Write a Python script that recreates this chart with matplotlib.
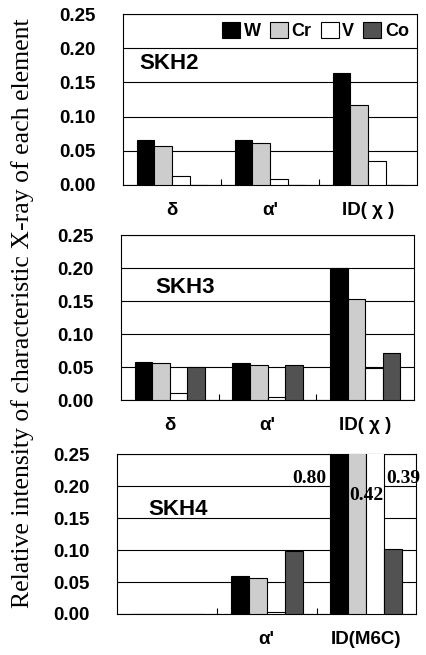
import numpy as np
import matplotlib
matplotlib.use("Agg")
import matplotlib.pyplot as plt

plt.rcParams['font.family'] = ['Liberation Sans', 'DejaVu Sans']

elements = ['W', 'Cr', 'V', 'Co']
colors = ['black', '#cdcdcd', 'white', '#525252']

cats_23 = ['δ', "α'", 'ID( χ )']
cats_4 = ['', "α'", 'ID(M6C)']

# values per element, per category
skh2 = {'W': [0.066, 0.066, 0.164],
        'Cr': [0.057, 0.061, 0.117],
        'V': [0.013, 0.009, 0.035],
        'Co': [0.0, 0.0, 0.0]}
skh3 = {'W': [0.058, 0.057, 0.200],
        'Cr': [0.057, 0.054, 0.154],
        'V': [0.011, 0.005, 0.049],
        'Co': [0.050, 0.054, 0.071]}
skh4 = {'W': [0.0, 0.060, 0.80],
        'Cr': [0.0, 0.057, 0.42],
        'V': [0.0, 0.003, 0.39],
        'Co': [0.0, 0.099, 0.101]}

fig = plt.figure(figsize=(4.26, 6.55), dpi=100)
ax1 = fig.add_axes([0.289, 0.7176, 0.690, 0.261])
ax2 = fig.add_axes([0.284, 0.389, 0.688, 0.252])
ax3 = fig.add_axes([0.275, 0.0626, 0.702, 0.244])

x = np.arange(3)
w = 0.18


def draw(ax, data, name, cats, name_x, name_y):
    for i, el in enumerate(elements):
        ax.bar(x + (i - 1.5) * w, data[el], w, color=colors[i], edgecolor='black',
               linewidth=0.8, label=el, zorder=3)
    ax.set_ylim(0, 0.25)
    ax.set_xlim(-0.5, 2.5)
    ax.set_yticks([0, 0.05, 0.10, 0.15, 0.20, 0.25])
    ax.set_yticklabels(['0.00', '0.05', '0.10', '0.15', '0.20', '0.25'],
                       fontsize=13.5, fontweight='bold')
    ax.tick_params(axis='y', length=0, pad=20)
    ax.set_xticks(x)
    ax.set_xticklabels(cats, fontsize=13.5, fontweight='bold')
    ax.tick_params(axis='x', which='major', length=0, pad=12)
    ax.set_xticks([0.5, 1.5], minor=True)
    ax.tick_params(axis='x', which='minor', direction='in', length=4, width=0.8)
    ax.yaxis.grid(True, color='black', linewidth=0.8, zorder=0)
    ax.set_axisbelow(True)
    ax.text(name_x, name_y, name, fontsize=16, fontweight='bold',
            ha='left', va='center')


draw(ax1, skh2, 'SKH2', cats_23, -0.33, 0.178)
draw(ax2, skh3, 'SKH3', cats_23, -0.15, 0.171)
draw(ax3, skh4, 'SKH4', cats_4, -0.19, 0.163)

ax1.legend(loc='upper right', ncol=4, frameon=False, handlelength=1.0,
           handleheight=1.0, handletextpad=0.2, columnspacing=0.5,
           borderaxespad=0.25, borderpad=0.2, prop={'weight': 'bold', 'size': 13})

# off-scale values in SKH4
serif = {'family': 'Liberation Serif', 'weight': 'bold', 'size': 14}
ax3.text(1.60, 0.212, '0.80', ha='right', va='center', fontdict=serif, zorder=5)
ax3.text(2.0, 0.186, '0.42', ha='center', va='center', fontdict=serif, zorder=5)
ax3.text(2.37, 0.212, '0.39', ha='center', va='center', fontdict=serif, zorder=5,
         clip_on=False)

fig.text(0.052, 0.522, 'Relative intensity of characteristic X-ray of each element',
         rotation=90, ha='center', va='center', family='Liberation Serif', fontsize=18.5)

fig.savefig('out.png', dpi=100)
